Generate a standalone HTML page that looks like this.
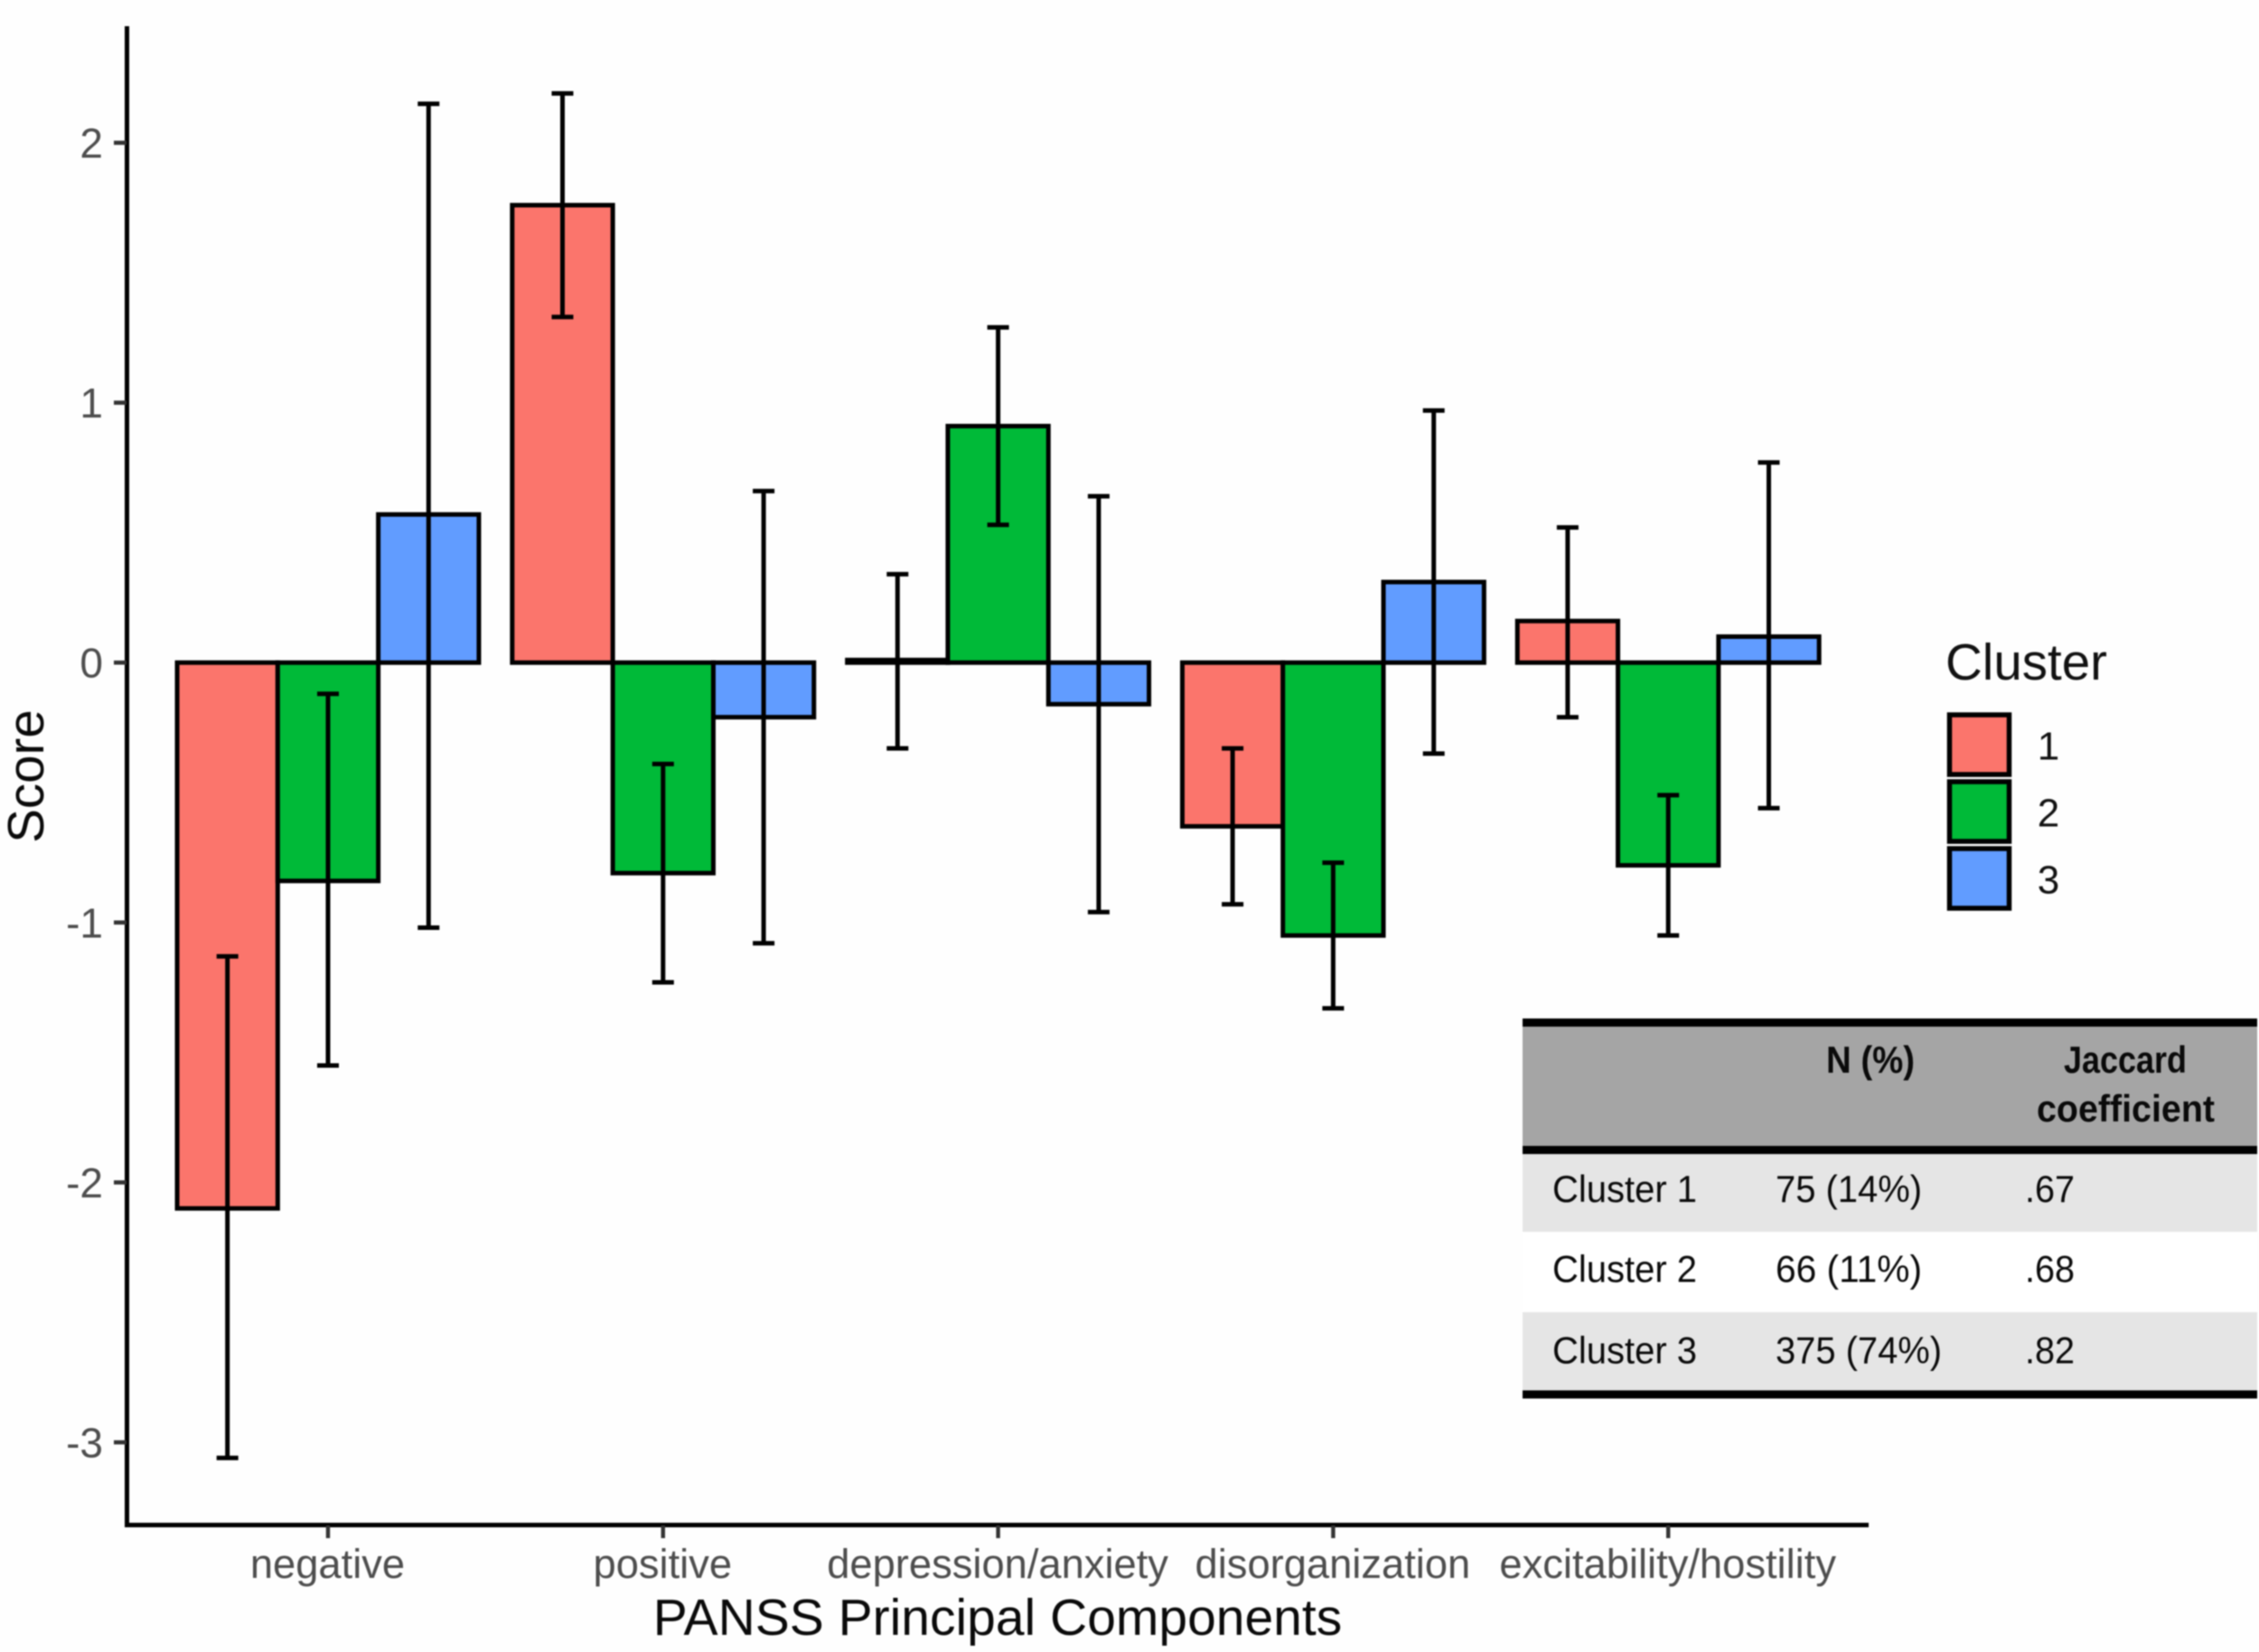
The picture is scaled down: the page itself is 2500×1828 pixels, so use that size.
<!DOCTYPE html>
<html>
<head>
<meta charset="utf-8">
<title>PANSS Principal Components by Cluster</title>
<style>
html,body{margin:0;padding:0;background:#fff;}
svg{display:block;filter:blur(0.7px);}
text{font-family:"Liberation Sans",Arial,sans-serif;}
</style>
</head>
<body>
<svg id="chart" xmlns="http://www.w3.org/2000/svg" width="2500" height="1828" viewBox="0 0 2500 1828">
  <rect x="0" y="0" width="2500" height="1828" fill="#fefefe"/>
  <g id="marks"></g>
  <g id="axes"></g>
  <text x="1104" y="1809" font-size="57" text-anchor="middle" fill="#0a0a0a">PANSS Principal Components</text>
  <text transform="translate(48 859) rotate(-90)" font-size="56.5" text-anchor="middle" fill="#0a0a0a">Score</text>
  <g id="legend">
    <text x="2153" y="752" font-size="56.5" fill="#111">Cluster</text>
  </g>
  <g id="table">
    <rect x="1685" y="1130" width="813" height="143" fill="#a5a5a5"/>
    <rect x="1685" y="1273" width="813" height="90" fill="#e5e5e5"/>
    <rect x="1685" y="1363" width="813" height="89" fill="#ffffff"/>
    <rect x="1685" y="1452" width="813" height="90" fill="#e5e5e5"/>
    <rect x="1685" y="1127" width="813" height="9" fill="#000"/>
    <rect x="1685" y="1268" width="813" height="9" fill="#000"/>
    <rect x="1685" y="1538.5" width="813" height="9" fill="#000"/>
    <g font-size="42" fill="#0a0a0a">
      <text x="2021" y="1187" font-weight="bold" textLength="98" lengthAdjust="spacingAndGlyphs">N (%)</text>
      <text x="2284" y="1187" font-weight="bold" textLength="136" lengthAdjust="spacingAndGlyphs">Jaccard</text>
      <text x="2254" y="1241" font-weight="bold" textLength="197" lengthAdjust="spacingAndGlyphs">coefficient</text>
      <text x="1718" y="1330" textLength="160" lengthAdjust="spacingAndGlyphs">Cluster 1</text>
      <text x="1965" y="1330" textLength="162" lengthAdjust="spacingAndGlyphs">75 (14%)</text>
      <text x="2241" y="1330" textLength="55" lengthAdjust="spacingAndGlyphs">.67</text>
      <text x="1718" y="1418.5" textLength="160" lengthAdjust="spacingAndGlyphs">Cluster 2</text>
      <text x="1965" y="1418.5" textLength="162" lengthAdjust="spacingAndGlyphs">66 (11%)</text>
      <text x="2241" y="1418.5" textLength="55" lengthAdjust="spacingAndGlyphs">.68</text>
      <text x="1718" y="1508.5" textLength="160" lengthAdjust="spacingAndGlyphs">Cluster 3</text>
      <text x="1965" y="1508.5" textLength="184" lengthAdjust="spacingAndGlyphs">375 (74%)</text>
      <text x="2241" y="1508.5" textLength="55" lengthAdjust="spacingAndGlyphs">.82</text>
    </g>
  </g>
</svg>
<script>
// Chart data
var categories = ["negative", "positive", "depression/anxiety", "disorganization", "excitability/hostility"];
var clusters = ["1", "2", "3"];
var yTicks = [2, 1, 0, -1, -2, -3];
var yTickLabels = ["2", "1", "0", "-1", "-2", "-3"];
var cluster1Scores = [-2.10, 1.76, 0.01, -0.63, 0.16];
var cluster2Scores = [-0.84, -0.81, 0.91, -1.05, -0.78];
var cluster3Scores = [0.57, -0.21, -0.16, 0.31, 0.10];
var cluster1Upper = [-1.13, 2.19, 0.34, -0.33, 0.52];
var cluster1Lower = [-3.06, 1.33, -0.33, -0.93, -0.21];
var cluster2Upper = [-0.12, -0.39, 1.29, -0.77, -0.51];
var cluster2Lower = [-1.55, -1.23, 0.53, -1.33, -1.05];
var cluster3Upper = [2.15, 0.66, 0.64, 0.97, 0.77];
var cluster3Lower = [-1.02, -1.08, -0.96, -0.35, -0.56];
var clusterColors = ["#fb756c", "#00ba38", "#619cff"];

var NS = "http://www.w3.org/2000/svg";
function make(tag, parent, props) {
  var e = document.createElementNS(NS, tag);
  for (var k in props) { e.setAttribute(k, props[k]); }
  parent.appendChild(e);
  return e;
}
function yScale(v) { return 733.2 - 287.6 * v; }
function xCenter(i) { return 363 + 370.8 * i; }
var barWidth = 111.3;
function xBar(i, s) { return xCenter(i) + (s - 1) * barWidth; }

var marks = document.getElementById("marks");
var axes = document.getElementById("axes");
var legend = document.getElementById("legend");
var scores = [cluster1Scores, cluster2Scores, cluster3Scores];
var uppers = [cluster1Upper, cluster2Upper, cluster3Upper];
var lowers = [cluster1Lower, cluster2Lower, cluster3Lower];

// Bars
categories.forEach(function (cat, i) {
  clusters.forEach(function (c, s) {
    var v = scores[s][i];
    var y0 = yScale(0), y1 = yScale(v);
    var bar = make("rect", marks, {
      x: xBar(i, s) - barWidth / 2,
      y: Math.min(y0, y1),
      width: barWidth,
      height: Math.abs(y1 - y0),
      fill: clusterColors[s],
      stroke: "#000",
      "stroke-width": 5
    });
    
    
  });
});

// Error bars
categories.forEach(function (cat, i) {
  clusters.forEach(function (c, s) {
    var x = xBar(i, s);
    var yU = yScale(uppers[s][i]), yL = yScale(lowers[s][i]);
    var g = make("g", marks, { stroke: "#000", "stroke-width": 5, fill: "none" });
    
    
    make("line", g, { x1: x, x2: x, y1: yU, y2: yL });
    make("line", g, { x1: x - 12, x2: x + 12, y1: yU, y2: yU });
    make("line", g, { x1: x - 12, x2: x + 12, y1: yL, y2: yL });
  });
});

// Axis lines
var yAxisLine = make("line", axes, { x1: 140.5, x2: 140.5, y1: 29, y2: 1690, stroke: "#000", "stroke-width": 5 });


var xAxisLine = make("line", axes, { x1: 138, x2: 2068, y1: 1687.5, y2: 1687.5, stroke: "#000", "stroke-width": 5 });



// Y ticks
yTicks.forEach(function (t, i) {
  var y = yScale(t);
  var tick = make("line", axes, { x1: 126, x2: 140, y1: y, y2: y, stroke: "#333", "stroke-width": 4.6 });
  
  
  var label = make("text", axes, { x: 114, y: y + 16.5, "font-size": 46, "text-anchor": "end", fill: "#4d4d4d" });
  
  
  label.textContent = yTickLabels[i];
});

// X ticks
categories.forEach(function (cat, i) {
  var x = xCenter(i);
  var tick = make("line", axes, { x1: x, x2: x, y1: 1688, y2: 1702, stroke: "#333", "stroke-width": 4.4 });
  
  
  var label = make("text", axes, { x: x - 0.5, y: 1746, "font-size": 45.3, "text-anchor": "middle", fill: "#4d4d4d" });
  
  
  label.textContent = cat;
});

// Legend
clusters.forEach(function (c, s) {
  var top = 791 + 74 * s;
  var key = make("rect", legend, { x: 2157.5, y: top, width: 66, height: 66, fill: clusterColors[s], stroke: "#000", "stroke-width": 5.5 });
  
  
  var label = make("text", legend, { x: 2267, y: 840.5 + 74 * s, "font-size": 44, "text-anchor": "middle", fill: "#111" });
  
  
  label.textContent = c;
});
</script>
</body>
</html>
